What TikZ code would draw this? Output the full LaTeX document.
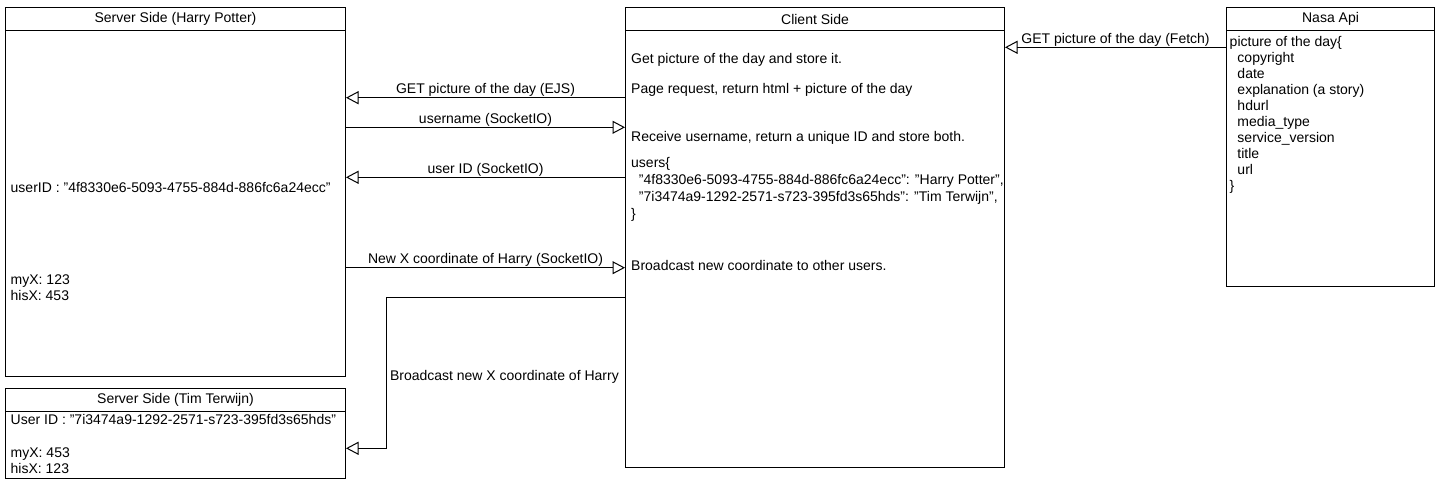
\documentclass[tikz,border=0pt]{standalone}
\usepackage{fontspec}
\setmainfont{Liberation Sans}
\usetikzlibrary{arrows.meta,positioning}
\tikzstyle{box}=[rectangle,draw,line width=1pt,inner sep=0pt,anchor=north west]
\tikzstyle{head}=[box,minimum height=23pt]
\tikzstyle{txt}=[inner sep=0pt,anchor=base west]
\tikzstyle{lbl}=[inner sep=0pt,anchor=base,yshift=4pt]
\tikzstyle{arr}=[-{Triangle[open,length=12.5pt,width=13pt]},line width=1pt]

\begin{document}
\begin{tikzpicture}[x=1pt,y=-1pt,font=\fontsize{14}{16}\selectfont]
            \useasboundingbox (0,0) rectangle (1442,482);

            % SERVER PART (Harry)

            \node[box,minimum width=340pt,minimum height=369pt] (harry) at (5,7) {};
            \node[head,minimum width=340pt] (harryhead) at (harry.north west) {Server Side (Harry Potter)};
            \node[txt] (harryid) at (10.5,192) {userID : "4f8330e6-5093-4755-884d-886fc6a24ecc"};
            \node[txt] (harrymy) at (10.5,284.5) {myX: 123};
            \node[txt] (harryhis) at (10.5,300.5) {hisX: 453};

            % SERVER PART (Tim)

            \node[box,below=11pt of harry.south west,anchor=north west,
                  minimum width=340pt,minimum height=90pt] (tim) {};
            \node[head,minimum width=340pt] (timhead) at (tim.north west) {Server Side (Tim Terwijn)};
            \node[txt] (timid) at (10.5,424.5) {User ID : "7i3474a9-1292-2571-s723-395fd3s65hds"};
            \node[txt] (timmy) at (10.5,457.8) {myX: 453};
            \node[txt] (timhis) at (10.5,473.8) {hisX: 123};

            % CLIENT PART

            \node[box,minimum width=379pt,minimum height=460pt] (client) at (625,7) {};
            \node[head,minimum width=379pt] (clienthead) at (client.north west) {Client Side};
            \node[txt] (cget) at (631,63) {Get picture of the day and store it.};
            \node[txt] (cpage) at (631,93.8) {Page request, return html + picture of the day};
            \node[txt] (crecv) at (631,141.5) {Receive username, return a unique ID and store both.};
            \node[txt] (cusers) at (631,167.5) {users\{};
            \node[txt] (cuser1) at (631,184.5) {\ \ "4f8330e6-5093-4755-884d-886fc6a24ecc": "Harry Potter",};
            \node[txt] (cuser2) at (631,201.5) {\ \ "7i3474a9-1292-2571-s723-395fd3s65hds": "Tim Terwijn",};
            \node[txt] (cusersend) at (631,218) {\}};
            \node[txt] (cbcast) at (631,270.5) {Broadcast new coordinate to other users.};

            % NASA PART

            \node[box,minimum width=208pt,minimum height=279pt] (nasa) at (1226,7) {};
            \node[head,minimum width=208pt] (nasahead) at (nasa.north west) {Nasa Api};
            \node[txt] (npod) at (1229.5,46.2) {picture of the day\{};
            \foreach \fld [count=\i] in {copyright,date,explanation (a story),hdurl,
                                         media\_type,service\_version,title,url}
              \node[txt] (nfld\i) at (1229.5,46.2+16*\i) {\ \ \fld};
            \node[txt] (npodend) at (1229.5,190) {\}};

            % Connections

            \path[arr] ([yshift=-40.3pt]nasa.north west) edge node[lbl] {GET picture of the day (Fetch)} ([yshift=-40.3pt]client.north east);
            \path[arr] ([yshift=-90.7pt]client.north west) edge node[lbl] {GET picture of the day (EJS)} ([yshift=-90.7pt]harry.north east);
            \path[arr] ([yshift=-120.3pt]harry.north east) edge node[lbl] {username (SocketIO)} ([yshift=-120.3pt]client.north west);
            \path[arr] ([yshift=-170.3pt]client.north west) edge node[lbl] {user ID (SocketIO)} ([yshift=-170.3pt]harry.north east);
            \path[arr] ([yshift=-260.7pt]harry.north east) edge node[lbl] {New X coordinate of Harry (SocketIO)} ([yshift=-260.7pt]client.north west);

            \draw[arr] ([yshift=-290.3pt]client.north west) -| node[txt,pos=0.762,anchor=west,xshift=3.5pt] {Broadcast new X coordinate of Harry}
                       ([xshift=40pt,yshift=-60.3pt]tim.north east) -- ([yshift=-60.3pt]tim.north east);

        \end{tikzpicture}
\end{document}
